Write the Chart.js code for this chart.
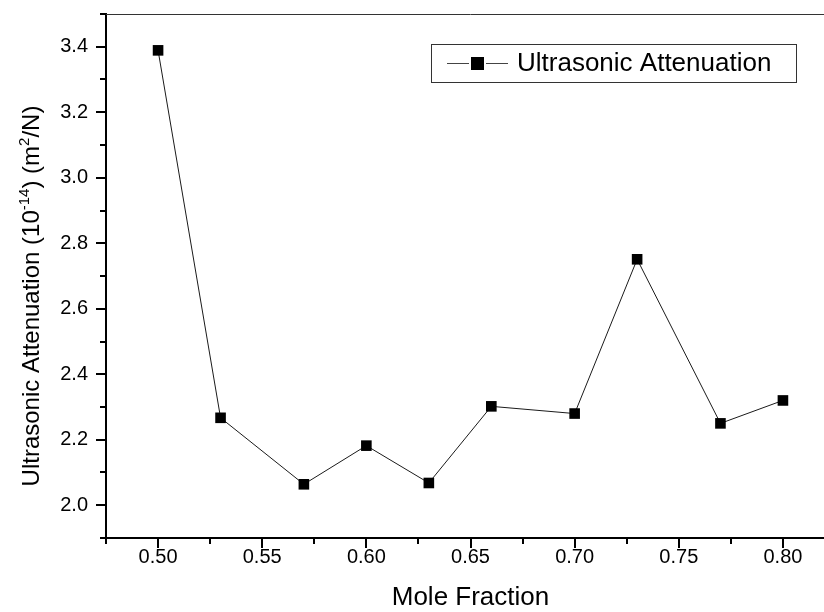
<!DOCTYPE html>
<html>
<head>
<meta charset="utf-8">
<script src="https://cdn.jsdelivr.net/npm/chart.js@4/dist/chart.umd.min.js"></script>
<style>
  html, body { margin: 0; padding: 0; background: #fff; overflow: hidden; }
  #wrap { width: 850px; height: 612px; }
</style>
</head>
<body>
<div id="wrap"><canvas id="chart" width="850" height="612"></canvas></div>
<script>
// measured values
const moleFraction = [0.50, 0.53, 0.57, 0.60, 0.63, 0.66, 0.70, 0.73, 0.77, 0.80];
const attenuation = [3.389, 2.267, 2.064, 2.182, 2.068, 2.302, 2.280, 2.751, 2.250, 2.320];

// axis ticks
const xTicks = [0.50, 0.55, 0.60, 0.65, 0.70, 0.75, 0.80];
const yTicks = [2.0, 2.2, 2.4, 2.6, 2.8, 3.0, 3.2, 3.4];
const xRange = [0.475, 0.825];
const yRange = [1.9, 3.5];

const seriesName = 'Ultrasonic Attenuation';
const xTitle = 'Mole Fraction';
// y title pieces: [text, superscript?]
const yTitle = [['Ultrasonic Attenuation (10', false], ['-14', true], [') (m', false], ['2', true], ['/N)', false]];

const FONT = '"Liberation Sans", Arial, sans-serif';

// minor ticks sit halfway between majors, plus one step outside each end
function minorTicks(major) {
  const step = major[1] - major[0];
  const out = [major[0] - step / 2];
  major.forEach(v => out.push(v + step / 2));
  return out;
}

const decorations = {
  id: 'decorations',
  afterDraw(chart) {
    const { ctx, chartArea: a, scales: { x, y } } = chart;
    ctx.save();

    // thin top frame line
    ctx.strokeStyle = '#333';
    ctx.lineWidth = 1;
    ctx.beginPath();
    ctx.moveTo(a.left, a.top + 0.5);
    ctx.lineTo(a.right, a.top + 0.5);
    ctx.stroke();

    // outward tick marks
    ctx.strokeStyle = '#000';
    ctx.lineWidth = 2;
    const tick = (px, py, dx, dy) => {
      ctx.beginPath();
      ctx.moveTo(px, py);
      ctx.lineTo(px + dx, py + dy);
      ctx.stroke();
    };
    xTicks.forEach(v => tick(Math.round(x.getPixelForValue(v)), a.bottom, 0, 10));
    minorTicks(xTicks).forEach(v => tick(Math.round(x.getPixelForValue(v)), a.bottom, 0, 6));
    yTicks.forEach(v => tick(a.left, Math.round(y.getPixelForValue(v)), -10, 0));
    minorTicks(yTicks).forEach(v => tick(a.left, Math.round(y.getPixelForValue(v)), -6, 0));

    ctx.fillStyle = '#000';

    // x axis title
    ctx.font = '26px ' + FONT;
    ctx.textAlign = 'center';
    ctx.textBaseline = 'middle';
    ctx.fillText(xTitle, (a.left + a.right) / 2, 598);

    // y axis title with superscripts
    ctx.translate(30, 296);
    ctx.rotate(-Math.PI / 2);
    ctx.textAlign = 'left';
    ctx.textBaseline = 'alphabetic';
    const big = '24px ' + FONT, small = '15px ' + FONT;
    let total = 0;
    yTitle.forEach(([t, sup]) => { ctx.font = sup ? small : big; total += ctx.measureText(t).width; });
    let cx = -total / 2;
    yTitle.forEach(([t, sup]) => {
      ctx.font = sup ? small : big;
      ctx.fillText(t, cx, sup ? -1 : 8.5);
      cx += ctx.measureText(t).width;
    });
    ctx.setTransform(1, 0, 0, 1, 0, 0);

    // legend box
    const lx = 431, ly = 44, lw = 365, lh = 38, cy = ly + lh / 2;
    ctx.strokeStyle = '#333';
    ctx.lineWidth = 1;
    ctx.strokeRect(lx + 0.5, ly + 0.5, lw, lh);
    ctx.strokeStyle = '#444';
    ctx.beginPath();
    ctx.moveTo(447, cy + 0.5); ctx.lineTo(469, cy + 0.5);
    ctx.moveTo(486, cy + 0.5); ctx.lineTo(508, cy + 0.5);
    ctx.stroke();
    ctx.fillStyle = '#000';
    ctx.fillRect(471, cy - 6, 13, 13);
    ctx.font = '26px ' + FONT;
    ctx.textBaseline = 'middle';
    ctx.textAlign = 'left';
    ctx.fillText(seriesName, 517, cy + 1);

    ctx.restore();
  }
};

new Chart(document.getElementById('chart'), {
  type: 'line',
  data: {
    datasets: [{
      label: seriesName,
      data: moleFraction.map((v, i) => ({ x: v, y: attenuation[i] })),
      borderColor: '#1a1a1a',
      borderWidth: 1,
      pointStyle: 'rect',
      pointRadius: 7.5,
      pointBackgroundColor: '#000',
      pointBorderWidth: 0,
      tension: 0
    }]
  },
  options: {
    responsive: false,
    devicePixelRatio: 1,
    animation: false,
    layout: { padding: { top: 14, right: 15, left: 0, bottom: 0 } },
    plugins: { legend: { display: false }, tooltip: { enabled: false } },
    scales: {
      x: {
        type: 'linear',
        min: xRange[0],
        max: xRange[1],
        afterBuildTicks: s => { s.ticks = xTicks.map(v => ({ value: v })); },
        afterFit: s => { s.height = 74; s.paddingLeft = 0; s.paddingRight = 0; },
        ticks: { callback: v => v.toFixed(2), color: '#000', font: { family: FONT, size: 20 }, padding: 7, maxRotation: 0 },
        grid: { display: false, drawTicks: false },
        border: { display: true, color: '#000', width: 2 }
      },
      y: {
        type: 'linear',
        min: yRange[0],
        max: yRange[1],
        afterBuildTicks: s => { s.ticks = yTicks.map(v => ({ value: v })); },
        afterFit: s => { s.width = 106; s.paddingTop = 0; s.paddingBottom = 0; },
        ticks: { callback: v => v.toFixed(1), color: '#000', font: { family: FONT, size: 20 }, padding: 18 },
        grid: { display: false, drawTicks: false },
        border: { display: true, color: '#000', width: 2 }
      }
    }
  },
  plugins: [decorations]
});
</script>
</body>
</html>
